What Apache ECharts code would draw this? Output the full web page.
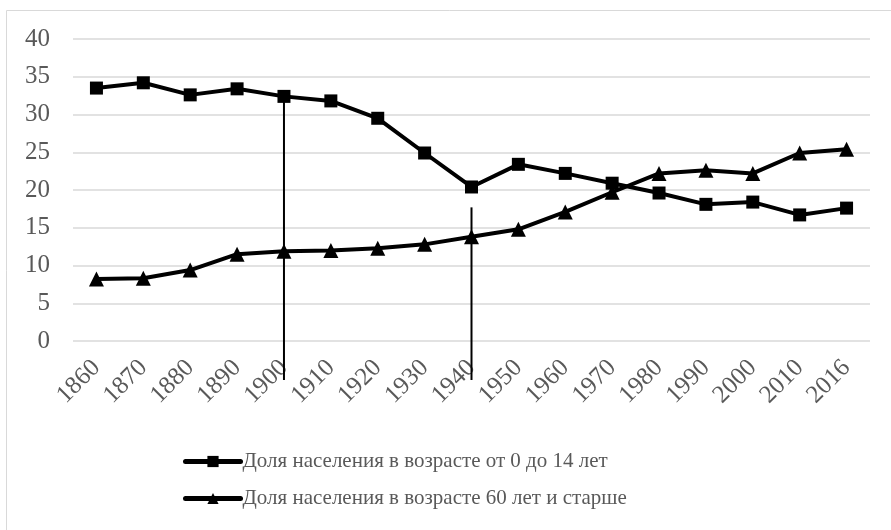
<!DOCTYPE html>
<html>
<head>
<meta charset="utf-8">
<script src="https://cdn.jsdelivr.net/npm/echarts@6/dist/echarts.min.js"></script>
<style>
  html, body { margin: 0; padding: 0; background: #fff; }
  #chart { width: 891px; height: 530px; }
</style>
</head>
<body>
<div id="chart"></div>
<script>
var years = ['1860', '1870', '1880', '1890', '1900', '1910', '1920', '1930', '1940',
  '1950', '1960', '1970', '1980', '1990', '2000', '2010', '2016'];
var children = [33.5, 34.2, 32.6, 33.4, 32.4, 31.8, 29.5, 24.9, 20.4,
  23.4, 22.2, 20.9, 19.6, 18.1, 18.4, 16.7, 17.6];
var elderly = [8.2, 8.3, 9.4, 11.5, 11.9, 12.0, 12.3, 12.8, 13.8,
  14.8, 17.1, 19.7, 22.2, 22.6, 22.2, 24.9, 25.4];
var yTicks = [0, 5, 10, 15, 20, 25, 30, 35, 40];
// vertical pointer lines: [year, value where the line starts]
var pointers = [['1900', 32.4], ['1940', 17.7]];

var nameChildren = 'Доля населения в возрасте от 0 до 14 лет';
var nameElderly = 'Доля населения в возрасте 60 лет и старше';
var font = '"Liberation Serif", "DejaVu Serif", serif';

var chart = echarts.init(document.getElementById('chart'));
var option = {
  animation: false,
  textStyle: { fontFamily: font },
  graphic: [{
    type: 'rect',
    shape: { x: 6.5, y: 10.5, width: 900, height: 540 },
    style: { fill: 'none', stroke: '#d9d9d9', lineWidth: 1 },
    silent: true
  }],
  grid: { left: 73, right: 21, top: 39, bottom: 189, outerBoundsMode: 'none' },
  legend: {
    orient: 'vertical',
    left: 183,
    top: 451,
    padding: 0,
    itemWidth: 55,
    itemHeight: 14,
    itemGap: 16,
    data: [nameChildren, nameElderly],
    lineStyle: { width: 5, cap: 'round' },
    textStyle: { color: '#595959', fontSize: 21, fontFamily: font, padding: [0, 0, 0, -3] }
  },
  xAxis: {
    type: 'category',
    data: years,
    boundaryGap: true,
    axisLine: { show: false },
    axisTick: { show: false },
    axisLabel: { rotate: 45, interval: 0, margin: 23, color: '#595959', fontSize: 25, fontFamily: font }
  },
  yAxis: {
    type: 'value',
    min: yTicks[0],
    max: yTicks[yTicks.length - 1],
    interval: 5,
    axisLine: { show: false },
    axisTick: { show: false },
    splitLine: { lineStyle: { color: '#d9d9d9', width: 1.5 } },
    axisLabel: { margin: 23, color: '#595959', fontSize: 25, fontFamily: font }
  },
  series: [{
    name: nameChildren,
    type: 'line',
    data: children,
    symbol: 'rect',
    symbolSize: 13,
    itemStyle: { color: '#000' },
    lineStyle: { color: '#000', width: 4 }
  }, {
    name: nameElderly,
    type: 'line',
    data: elderly,
    symbol: 'triangle',
    symbolSize: 15,
    itemStyle: { color: '#000' },
    lineStyle: { color: '#000', width: 4 }
  }, {
    name: 'pointers',
    type: 'custom',
    data: pointers,
    z: 5,
    renderItem: function (params, api) {
      var top = api.coord([api.value(0), api.value(1)]);
      var base = api.coord([api.value(0), 0]);
      return {
        type: 'line',
        shape: { x1: top[0], y1: top[1], x2: base[0], y2: base[1] + 39 },
        style: { stroke: '#000', lineWidth: 2 }
      };
    }
  }]
};
chart.setOption(option);
</script>
</body>
</html>
